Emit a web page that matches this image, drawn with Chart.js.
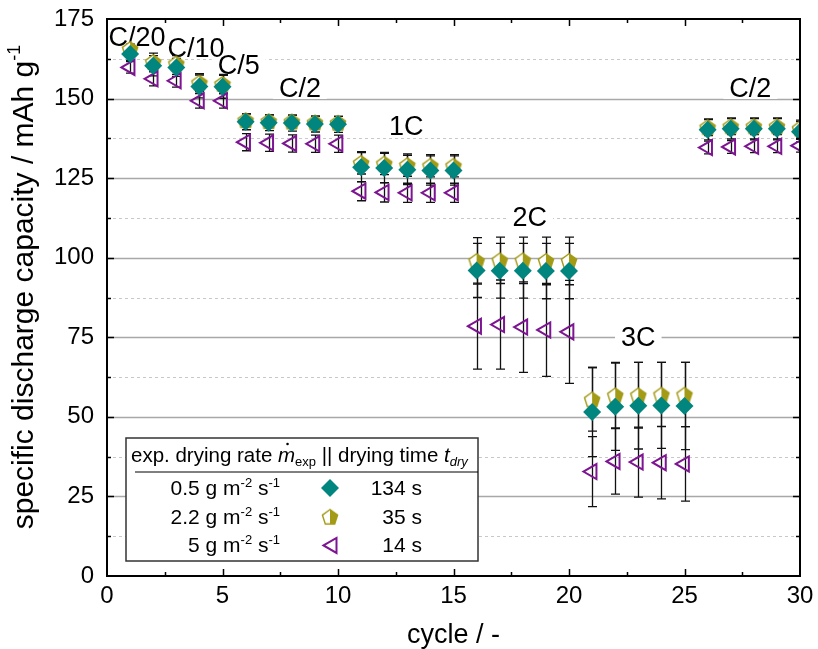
<!DOCTYPE html>
<html>
<head>
<title>Rate capability</title>
<script src="https://cdn.jsdelivr.net/npm/chart.js"></script>
<style>
  body { margin: 0; background: #fff; }
</style>
</head>
<body>
<canvas id="chart" width="818" height="649"></canvas>
<script>
// cycle numbers
const cycles = [1, 2, 3, 4, 5, 6, 7, 8, 9, 10, 11, 12, 13, 14, 15,
                16, 17, 18, 19, 20, 21, 22, 23, 24, 25, 26, 27, 28, 29, 30];

// specific discharge capacity in mAh/g, one list per drying rate
const rate05 = [164, 160.3, 159.8, 153.8, 153.7, 142.7, 142.4, 142.3, 142, 141.9,
                128.4, 128.2, 127.6, 127.4, 127.4, 96, 95.9, 95.9, 95.8, 95.8,
                51.5, 53.2, 53.5, 53.6, 53.4, 140.2, 140.5, 140.5, 140.5, 139.6];
const rate22 = [165.6, 161.5, 161, 155, 154.6, 143.2, 142.9, 142.8, 142.5, 142.4,
                129.8, 129.6, 129.1, 128.9, 128.9, 99, 99.2, 99.2, 99, 99,
                55.5, 56.8, 56.8, 57, 57, 141, 141.3, 141.3, 141.3, 140.6];
const rate5 = [159.8, 156.2, 155.6, 149.3, 149.3, 136.3, 136.1, 135.9, 135.8, 135.8,
               120.9, 120.5, 120.4, 120.4, 120.4, 78.5, 79, 78.2, 77.3, 76.7,
               32.8, 36, 35.8, 35.6, 35.2, 134.6, 134.8, 135, 135, 135.2];

// standard deviations
const err05 = [2, 3.2, 2.8, 3.6, 3.6, 2.5, 2.5, 2.5, 2.5, 2.5,
               4.6, 4.6, 4.6, 4.6, 4.6, 8.5, 8.6, 8.6, 8.7, 8.7,
               14, 13.7, 13.6, 13.5, 13.7, 3.2, 3.2, 3.2, 3.2, 3.2];
const err22 = [1.5, 2.8, 2.5, 2.8, 3, 2, 2, 2, 2, 2,
               3.5, 3.5, 3.5, 3.5, 3.5, 7.3, 7.3, 7.3, 7.5, 7.5,
               10, 10.3, 10.3, 10.1, 10.1, 2.6, 2.6, 2.6, 2.6, 2.6];
const err5 = [1.8, 2.2, 2, 2.3, 2.3, 2.7, 2.7, 2.7, 2.7, 2.7,
              3, 3, 3, 3, 3, 13.5, 14, 14.2, 14.6, 16.2,
              11, 10.3, 11, 11.4, 11.7, 2, 2, 2, 2, 2];

// C-rate steps
const rateText = ['C/20', 'C/10', 'C/5', 'C/2', '1C', '2C', '3C', 'C/2'];
const rateAtCycle = [1.3, 3.85, 5.7, 8.35, 12.95, 18.3, 23, 27.85];
const rateAtValue = [169.3, 165.8, 160.3, 153, 141.3, 112.5, 75, 153];

// legend rows
const legendRate = ['0.5', '2.2', '5'];
const legendTime = ['134 s', '35 s', '14 s'];

const FONT = '"Liberation Sans", Arial, sans-serif';
const TEAL = '#00857f';
const OLIVE = '#a39a16';
const PURPLE = '#7d1491';

// half filled pentagon marker
function makePentagon(r, color) {
  const s = Math.ceil(r * 2 + 4);
  const c = document.createElement('canvas');
  c.width = s; c.height = s;
  const g = c.getContext('2d');
  const cx = s / 2, cy = s / 2 + r * 0.1;
  g.beginPath();
  for (let k = 0; k < 5; k++) {
    const a = -Math.PI / 2 + k * 2 * Math.PI / 5;
    const px = cx + r * Math.cos(a), py = cy + r * Math.sin(a);
    if (k === 0) g.moveTo(px, py); else g.lineTo(px, py);
  }
  g.closePath();
  g.fillStyle = '#fff';
  g.fill();
  g.save();
  g.clip();
  g.fillStyle = color;
  g.fillRect(cx, 0, s, s);
  g.restore();
  g.lineWidth = 1.4;
  g.strokeStyle = color;
  g.stroke();
  return c;
}
const pentagon = makePentagon(8, OLIVE);

function marker(ctx, i, x, y) {
  ctx.save();
  if (i === 0) {
    ctx.fillStyle = TEAL;
    ctx.beginPath();
    ctx.moveTo(x, y - 9); ctx.lineTo(x + 9, y); ctx.lineTo(x, y + 9); ctx.lineTo(x - 9, y);
    ctx.closePath();
    ctx.fill();
  } else if (i === 1) {
    ctx.drawImage(pentagon, x - pentagon.width / 2, y - pentagon.height / 2);
  } else {
    ctx.strokeStyle = PURPLE;
    ctx.lineWidth = 2;
    ctx.beginPath();
    ctx.moveTo(x - 6.5, y); ctx.lineTo(x + 6.5, y - 7.5); ctx.lineTo(x + 6.5, y + 7.5);
    ctx.closePath();
    ctx.stroke();
  }
  ctx.restore();
}

// draws text pieces in a row: [text, size, italic, shift]
function richText(ctx, parts, x, y) {
  let cx = x;
  parts.forEach(p => {
    ctx.font = (p[2] ? 'italic ' : '') + p[1] + 'px ' + FONT;
    ctx.fillText(p[0], cx, y + (p[3] || 0));
    cx += ctx.measureText(p[0]).width;
  });
  return cx;
}
function richWidth(ctx, parts) {
  let w = 0;
  parts.forEach(p => {
    ctx.font = (p[2] ? 'italic ' : '') + p[1] + 'px ' + FONT;
    w += ctx.measureText(p[0]).width;
  });
  return w;
}

const errorSets = [err05, err22, err5];

const decor = {
  id: 'decor',
  beforeDatasetsDraw(chart) {
    const { ctx, chartArea: a, scales: { x, y } } = chart;
    ctx.save();
    // horizontal grid
    for (let v = 12.5; v < 175; v += 12.5) {
      const major = v % 25 === 0;
      const py = Math.round(y.getPixelForValue(v)) + 0.5;
      ctx.strokeStyle = major ? '#a8a8a8' : '#c8c8c8';
      ctx.lineWidth = major ? 1.5 : 1;
      ctx.setLineDash(major ? [] : [3, 3]);
      ctx.beginPath();
      ctx.moveTo(a.left, py);
      ctx.lineTo(a.right, py);
      ctx.stroke();
    }
    ctx.setLineDash([]);

    // C-rate labels on white boxes
    ctx.font = '27px ' + FONT;
    ctx.textAlign = 'center';
    ctx.textBaseline = 'middle';
    rateText.forEach((t, i) => {
      const px = x.getPixelForValue(rateAtCycle[i]);
      const py = y.getPixelForValue(rateAtValue[i]);
      const w = ctx.measureText(t).width;
      ctx.fillStyle = '#fff';
      ctx.fillRect(px - w / 2 - 6, py - 10, w + 12, 20);
    });
    rateText.forEach((t, i) => {
      const px = x.getPixelForValue(rateAtCycle[i]);
      const py = y.getPixelForValue(rateAtValue[i]);
      ctx.fillStyle = '#000';
      ctx.fillText(t, px, py + 1);
    });

    // error bars
    ctx.beginPath();
    ctx.rect(a.left, a.top, a.right - a.left, a.bottom - a.top);
    ctx.clip();
    ctx.strokeStyle = '#111';
    ctx.lineWidth = 1.3;
    chart.data.datasets.forEach((ds, di) => {
      const errs = errorSets[di];
      ds.data.forEach((pt, k) => {
        const px = Math.round(x.getPixelForValue(pt.x)) + 0.5;
        const top = y.getPixelForValue(pt.y + errs[k]);
        const bot = y.getPixelForValue(pt.y - errs[k]);
        ctx.beginPath();
        ctx.moveTo(px, top); ctx.lineTo(px, bot);
        ctx.moveTo(px - 4.5, top); ctx.lineTo(px + 4.5, top);
        ctx.moveTo(px - 4.5, bot); ctx.lineTo(px + 4.5, bot);
        ctx.stroke();
      });
    });
    ctx.restore();
  },
  afterDatasetsDraw(chart) {
    const { ctx, chartArea: a, scales: { x, y } } = chart;
    ctx.save();
    // frame and inward ticks
    ctx.strokeStyle = '#000';
    ctx.lineWidth = 2;
    ctx.strokeRect(a.left, a.top, a.right - a.left, a.bottom - a.top);
    ctx.lineWidth = 1.5;
    ctx.beginPath();
    for (let v = 2.5; v < 30; v += 2.5) {
      const px = Math.round(x.getPixelForValue(v)) + 0.5;
      const len = v % 5 === 0 ? 7 : 4;
      ctx.moveTo(px, a.bottom); ctx.lineTo(px, a.bottom - len);
      ctx.moveTo(px, a.top); ctx.lineTo(px, a.top + len);
    }
    for (let v = 12.5; v < 175; v += 12.5) {
      const py = Math.round(y.getPixelForValue(v)) + 0.5;
      const len = v % 25 === 0 ? 7 : 4;
      ctx.moveTo(a.left, py); ctx.lineTo(a.left + len, py);
      ctx.moveTo(a.right, py); ctx.lineTo(a.right - len, py);
    }
    ctx.stroke();

    // y axis title with superscript
    ctx.fillStyle = '#000';
    ctx.textBaseline = 'alphabetic';
    ctx.textAlign = 'left';
    const yTitle = [['specific discharge capacity / mAh g', 30], ['-1', 18, false, -13]];
    const tw = richWidth(ctx, yTitle);
    ctx.save();
    ctx.translate(33, 287);
    ctx.rotate(-Math.PI / 2);
    richText(ctx, yTitle, -tw / 2, 0);
    ctx.restore();

    // legend table
    const bx = 126, by = 438, bw = 352, bh = 123;
    ctx.fillStyle = '#fff';
    ctx.fillRect(bx, by, bw, bh);
    ctx.strokeStyle = '#333';
    ctx.lineWidth = 1.5;
    ctx.strokeRect(bx, by, bw, bh);
    ctx.beginPath();
    ctx.moveTo(bx + 9, 472); ctx.lineTo(bx + bw, 472);
    ctx.strokeStyle = '#000';
    ctx.lineWidth = 1;
    ctx.stroke();

    ctx.fillStyle = '#000';
    const head = [['exp. drying rate ', 20.5], ['m', 20.5, true], ['exp', 13, false, 4],
                  [' || drying time ', 20.5], ['t', 20.5, true], ['dry', 13, true, 4]];
    richText(ctx, head, 131, 462);
    // dot over m
    const mx = 131 + richWidth(ctx, head.slice(0, 1)) + richWidth(ctx, [head[1]]) / 2 + 1;
    ctx.beginPath();
    ctx.arc(mx, 444, 1.3, 0, Math.PI * 2);
    ctx.fill();

    legendRate.forEach((r, i) => {
      const base = 495 + i * 28.7;
      const parts = [[r + ' g m', 21], ['-2', 13, false, -8], [' s', 21], ['-1', 13, false, -8]];
      const w = richWidth(ctx, parts);
      richText(ctx, parts, 280 - w, base);
      marker(ctx, i, 330, base - 7);
      ctx.font = '21px ' + FONT;
      ctx.textAlign = 'right';
      ctx.fillText(legendTime[i], 422, base);
      ctx.textAlign = 'left';
    });
    ctx.restore();
  }
};

function toPoints(values) {
  return cycles.map((c, i) => ({ x: c, y: values[i] }));
}

new Chart(document.getElementById('chart'), {
  type: 'scatter',
  data: {
    datasets: [
      { label: '0.5 g m-2 s-1', data: toPoints(rate05), pointStyle: 'rectRot',
        pointRadius: 9, backgroundColor: TEAL, borderColor: TEAL, borderWidth: 0, clip: 0 },
      { label: '2.2 g m-2 s-1', data: toPoints(rate22), pointStyle: pentagon,
        pointRadius: 8, backgroundColor: OLIVE, borderColor: OLIVE, clip: 0 },
      { label: '5 g m-2 s-1', data: toPoints(rate5), pointStyle: 'triangle', rotation: -90,
        pointRadius: 8.7, backgroundColor: 'rgba(0,0,0,0)', borderColor: PURPLE, borderWidth: 2, clip: 0 }
    ]
  },
  options: {
    responsive: false,
    animation: false,
    events: [],
    layout: { padding: { left: 0, right: 18, top: 19, bottom: 0 } },
    plugins: { legend: { display: false }, tooltip: { enabled: false } },
    scales: {
      x: {
        type: 'linear', min: 0, max: 30,
        grid: { display: false, drawTicks: false },
        border: { display: false },
        ticks: { stepSize: 5, color: '#000', padding: 6, font: { family: FONT, size: 24 } },
        title: { display: true, text: 'cycle / -', color: '#000', padding: { top: 0, bottom: 0 },
                 font: { family: FONT, size: 27, lineHeight: 1 } },
        afterFit(s) { s.height = 73; s.paddingLeft = 0; s.paddingRight = 0; }
      },
      y: {
        min: 0, max: 175,
        grid: { display: false, drawTicks: false },
        border: { display: false },
        ticks: { stepSize: 25, color: '#000', padding: 13, font: { family: FONT, size: 24 } },
        afterFit(s) { s.width = 107; s.paddingTop = 0; s.paddingBottom = 0; }
      }
    }
  },
  plugins: [decor]
});
</script>
</body>
</html>
